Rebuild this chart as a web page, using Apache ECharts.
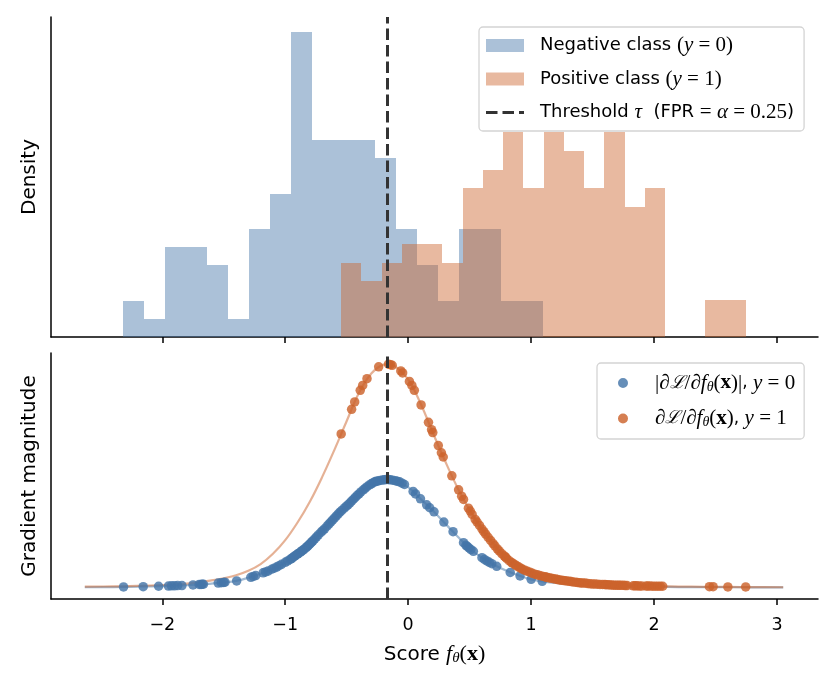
<!DOCTYPE html>
<html><head><meta charset="utf-8">
<script src="https://cdn.jsdelivr.net/npm/echarts@6/dist/echarts.min.js"></script>
<style>html,body{margin:0;padding:0;background:#fff}#c{width:836px;height:691px}</style>
</head><body><div id="c"></div>
<script>
// ---- Histogram data (counts per bin) ----
const negBinStart = -2.317, negBinWidth = 0.1707;
const negCounts = [2,1,5,5,4,1,6,8,17,11,11,11,10,6,4,2,6,6,2,2];
const posBinStart = -0.545, posBinWidth = 0.1646;
const posCounts = [4,3,4,5,5,4,8,9,11,8,11,10,8,11,7,8,0,0,2,2];
const threshold = -0.168;
const xTicks = [-2,-1,0,1,2,3];

// ---- Per-sample scores and gradient magnitudes ----
const negScoreX = [-2.315,-2.155,-2.03,-1.95,-1.925,-1.9,-1.875,-1.84,-1.75,-1.70,-1.685,-1.675,-1.665,
-1.545,-1.52,-1.5,-1.49,-1.395,-1.28,-1.26,-1.24,-1.18,-1.16,-1.14,
-1.11,-1.09,-1.07,-1.05,-1.03,-1.0,-0.98,-0.96,
-0.948,-0.94,-0.928,-0.92,-0.905,-0.897,-0.889,-0.874,-0.866,-0.855,-0.846,-0.83,-0.822,-0.813,-0.804,-0.795,-0.784,
-0.775,-0.76,-0.745,-0.73,-0.71,-0.695,-0.68,-0.66,-0.645,-0.63,-0.615,
-0.6,-0.585,-0.57,-0.555,-0.54,-0.52,-0.505,-0.49,-0.475,-0.46,-0.445,
-0.43,-0.415,-0.4,-0.385,-0.365,-0.35,-0.335,-0.315,-0.3,-0.285,-0.272,
-0.26,-0.245,-0.23,-0.21,-0.195,-0.18,-0.16,-0.145,-0.125,-0.105,
-0.09,-0.07,-0.05,-0.03,0.04,0.06,0.1,0.15,0.175,0.21,0.29,0.365,
0.45,0.47,0.48,0.495,0.51,0.53,0.6,0.62,0.64,0.66,0.68,0.72,0.83,0.91,1.0,1.09];
const negGradY = [0.004,0.005,0.007,0.008,0.009,0.009,0.010,0.010,0.013,0.015,0.015,0.016,0.016,
0.021,0.023,0.024,0.025,0.031,0.047,0.051,0.055,0.067,0.071,0.075,
0.083,0.088,0.093,0.099,0.105,0.114,0.120,0.127,
0.131,0.135,0.140,0.143,0.149,0.152,0.155,0.161,0.165,0.169,0.173,0.180,0.184,0.189,0.194,0.199,0.205,
0.210,0.219,0.228,0.237,0.248,0.256,0.264,0.276,0.285,0.294,0.303,
0.312,0.321,0.330,0.338,0.346,0.356,0.364,0.371,0.379,0.388,0.396,
0.404,0.413,0.420,0.429,0.438,0.445,0.452,0.460,0.465,0.470,0.474,
0.476,0.478,0.480,0.482,0.483,0.484,0.484,0.483,0.481,0.479,
0.477,0.474,0.468,0.462,0.431,0.420,0.398,0.371,0.358,0.340,0.294,0.251,
0.202,0.190,0.185,0.178,0.171,0.163,0.135,0.127,0.120,0.114,0.108,0.096,0.069,0.053,0.038,0.029];
const posScoreX = [-0.545,-0.46,-0.435,-0.39,-0.37,-0.335,-0.24,-0.16,-0.145,-0.13,-0.06,
-0.045,0.01,0.03,0.05,0.105,0.165,0.19,0.2,0.245,0.27,0.285,0.355,0.41,0.435,
0.45,0.49,0.505,0.52,0.545,0.56,0.58,0.6,
0.615,0.63,0.65,0.67,0.69,0.705,0.725,0.74,0.76,
0.78,0.79,0.8,0.82,0.84,0.85,0.87,0.88,0.9,0.915,0.93,
0.95,0.97,0.99,1.01,1.03,1.05,1.07,1.09,
1.11,1.12,1.135,1.15,1.165,1.18,1.2,1.215,1.23,1.245,1.26,
1.275,1.29,1.31,1.325,1.34,1.36,1.375,1.39,1.405,1.42,
1.44,1.46,1.48,1.5,1.52,1.54,1.56,1.58,
1.6,1.61,1.625,1.64,1.655,1.67,1.685,1.7,1.715,1.73,1.75,
1.765,1.78,1.83,1.845,1.86,1.88,1.9,
1.935,1.95,1.97,1.99,2.01,2.03,2.05,2.07,2.45,2.48,2.6,2.745];
const posGradY = [0.688,0.798,0.831,0.883,0.905,0.935,0.988,1.000,0.998,0.995,0.970,
0.961,0.923,0.905,0.883,0.818,0.740,0.707,0.694,0.636,0.604,0.585,0.501,0.438,0.410,
0.395,0.356,0.343,0.328,0.306,0.294,0.279,0.263,
0.251,0.240,0.226,0.212,0.198,0.188,0.174,0.165,0.153,
0.143,0.138,0.132,0.122,0.113,0.110,0.103,0.099,0.093,0.088,0.083,
0.078,0.074,0.070,0.065,0.061,0.058,0.055,0.052,
0.050,0.048,0.046,0.044,0.043,0.041,0.039,0.037,0.035,0.034,0.033,
0.032,0.031,0.029,0.028,0.026,0.025,0.024,0.023,0.022,0.021,
0.021,0.019,0.018,0.017,0.017,0.016,0.015,0.015,
0.0145,0.014,0.014,0.013,0.013,0.012,0.012,0.012,0.011,0.011,0.011,
0.010,0.010,0.009,0.009,0.009,0.008,0.008,
0.008,0.008,0.008,0.007,0.007,0.007,0.007,0.007,0.005,0.005,0.004,0.004];

// ---- Gradient curves sampled from the figure ----
const curveX = [-2.63,-2.4,-2.2,-2.0,-1.8,-1.6,-1.5,-1.4,-1.3,-1.2,-1.1,-1.0,-0.9,-0.8,-0.7,-0.6,-0.5,-0.4,-0.3,-0.2,-0.17,-0.1,0.0,0.1,0.2,0.3,0.4,0.5,0.6,0.7,0.8,0.9,1.0,1.1,1.2,1.3,1.4,1.6,1.8,2.0,2.2,2.4,2.6,2.8,3.05];
const curvePos = [.005,.0065,.0085,.0125,.019,.033,.043,.056,.076,.106,.152,.213,.292,.385,.495,.617,.746,.872,.958,.998,1.0,.988,.932,.825,.694,.567,.449,.347,.263,.192,.132,.093,.067,.051,.039,.030,.023,.0145,.0095,.007,.0055,.0045,.0038,.0032,.0026];
const curveNeg = [.0025,.0035,.005,.0075,.0115,.019,.024,.031,.045,.063,.085,.114,.151,.196,.254,.312,.367,.42,.465,.483,.484,.478,.45,.398,.346,.288,.231,.176,.135,.102,.076,.055,.038,.028,.022,.017,.013,.0085,.0055,.0042,.0035,.003,.0026,.0023,.002];

const NEG = 'Negative class (y=0)', POS = 'Positive class (y=1)', THR = 'Threshold τ (FPR = α = 0.25)';
const GNEG = '|∂L/∂f(x)|, y=0', GPOS = '∂L/∂f(x), y=1';
const blue = '#4475a8', orange = '#cc632c', dark = '#333333';

function histData(start, w, counts) {
  const n = counts.reduce((a, b) => a + b, 0);
  return counts.map((c, i) => [start + i * w, start + (i + 1) * w, c / (n * w)]);
}
function histSeries(name, data, color) {
  return {
    name, type: 'custom', xAxisIndex: 0, yAxisIndex: 0, data,
    encode: { x: [0, 1], y: 2 },
    itemStyle: { color: color, opacity: 0.45 },
    renderItem: function (params, api) {
      const p0 = api.coord([api.value(0), 0]);
      const p1 = api.coord([api.value(1), api.value(2)]);
      const x0 = Math.round(p0[0]), x1 = Math.round(p1[0]);
      const yb = Math.round(p0[1]), yt = Math.round(p1[1]);
      return { type: 'rect', shape: { x: x0, y: yt, width: x1 - x0, height: yb - yt },
        style: { fill: color, opacity: 0.45 } };
    }
  };
}
const negHist = histData(negBinStart, negBinWidth, negCounts);
const posHist = histData(posBinStart, posBinWidth, posCounts);

const sans = 'DejaVu Sans', serif = 'Liberation Serif';
const richTop = {
  t: { fontFamily: sans, fontSize: 18, color: '#000' },
  n: { fontFamily: serif, fontSize: 21, color: '#000' },
  m: { fontFamily: serif, fontSize: 21, fontStyle: 'italic', color: '#000' }
};
const richBot = {
  t: { fontFamily: sans, fontSize: 17, color: '#000' },
  n: { fontFamily: serif, fontSize: 21, color: '#000' },
  m: { fontFamily: serif, fontSize: 21, fontStyle: 'italic', color: '#000' },
  c: { fontFamily: 'DejaVu Serif', fontSize: 18, fontStyle: 'italic', color: '#000' },
  b: { fontFamily: serif, fontSize: 21, fontWeight: 'bold', color: '#000' },
  s: { fontFamily: serif, fontSize: 14, fontStyle: 'italic', color: '#000', padding: [8, 0, 0, 0] }
};
const legendLabels = {};
legendLabels[NEG] = '{t|Negative class }{n|(}{m|y}{n| = 0)}';
legendLabels[POS] = '{t|Positive class }{n|(}{m|y}{n| = 1)}';
legendLabels[THR] = '{t|Threshold }{m|τ}{t|  (FPR }{n|= }{m|α}{n| = 0.25}{t|)}';
legendLabels[GNEG] = '{n||∂}{c|ℒ}{n|/∂}{m|f}{s|θ}{n|(}{b|x}{n|)|}{t|, }{m|y}{n| = 0}';
legendLabels[GPOS] = '{n|∂}{c|ℒ}{n|/∂}{m|f}{s|θ}{n|(}{b|x}{n|)}{t|, }{m|y}{n| = 1}';

const xMin = -2.905, xMax = 3.333;
function xAxis(idx, labels) {
  return {
    type: 'value', gridIndex: idx, min: xMin, max: xMax,
    axisLine: { onZero: false, lineStyle: { color: '#000', width: 1.5 } },
    axisTick: { show: true, length: 6, customValues: xTicks, lineStyle: { color: '#000', width: 1.5 } },
    axisLabel: { show: labels, customValues: xTicks, color: '#000', fontFamily: sans, fontSize: 17.5, margin: 17,
      formatter: v => String(v).replace('-', '\u2212') },
    splitLine: { show: false },
    name: labels ? '{t|Score }{m|f}{s|θ}{n|(}{b|x}{n|)}' : '',
    nameLocation: 'middle', nameGap: 44,
    nameTextStyle: { rich: {
      t: { fontFamily: sans, fontSize: 20, color: '#000' },
      n: { fontFamily: serif, fontSize: 22, color: '#000' },
      m: { fontFamily: serif, fontSize: 22, fontStyle: 'italic', color: '#000' },
      b: { fontFamily: serif, fontSize: 22, fontWeight: 'bold', color: '#000' },
      s: { fontFamily: serif, fontSize: 15, fontStyle: 'italic', color: '#000', padding: [8, 0, 0, 0] }
    } }
  };
}
function yAxis(idx, min, max, name) {
  return {
    type: 'value', gridIndex: idx, min, max,
    axisLine: { show: true, onZero: false, lineStyle: { color: '#000', width: 1.5 } },
    axisTick: { show: false }, axisLabel: { show: false }, splitLine: { show: false },
    name, nameLocation: 'middle', nameGap: 11,
    nameTextStyle: { fontFamily: sans, fontSize: 20, color: '#000' }
  };
}
const thrLine = { color: dark, width: 3, type: [11.5, 5] };
const dotIcon = 'path://M0,0L0.01,0ZM38,10L37.99,10ZM14,5A5,5,0,1,0,24,5A5,5,0,1,0,14,5Z';
const dashIcon = 'path://M0,0L0.01,0ZM38,13L37.99,13ZM0,5H11.5V8H0ZM16.5,5H28V8H16.5ZM33,5H38V8H33Z';

const option = {
  animation: false,
  backgroundColor: '#fff',
  grid: [
    { left: 51, right: 18, top: 17, height: 320 },
    { left: 51, right: 18, top: 353, height: 246 }
  ],
  xAxis: [xAxis(0, false), xAxis(1, true)],
  yAxis: [yAxis(0, 0, 0.871, 'Density'), yAxis(1, -0.05, 1.05, 'Gradient magnitude')],
  legend: [
    {
      data: [{ name: NEG, icon: 'rect' }, { name: POS, icon: 'rect' }, { name: THR, icon: dashIcon }],
      orient: 'vertical', left: 479, top: 27, itemWidth: 38, itemHeight: 13, itemGap: 12.5,
      padding: [8, 10, 8, 7], borderColor: '#d4d4d4', borderWidth: 1.3, borderRadius: 4,
      backgroundColor: 'rgba(255,255,255,0.8)', selectedMode: false,
      formatter: n => legendLabels[n],
      textStyle: { fontFamily: sans, fontSize: 18, color: '#000', lineHeight: 20, padding: [0, 0, 0, 11], rich: richTop }
    },
    {
      data: [{ name: GNEG, icon: dotIcon }, { name: GPOS, icon: dotIcon }],
      orient: 'vertical', left: 597, top: 363, itemWidth: 38, itemHeight: 10, itemGap: 14,
      padding: [9.5, 9, 9.5, 7], borderColor: '#d4d4d4', borderWidth: 1.3, borderRadius: 4,
      backgroundColor: 'rgba(255,255,255,0.8)', selectedMode: false,
      formatter: n => legendLabels[n],
      textStyle: { fontFamily: sans, fontSize: 17, color: '#000', lineHeight: 20, padding: [0, 0, 0, 8], rich: richBot }
    }
  ],
  series: [
    histSeries(NEG, negHist, blue),
    histSeries(POS, posHist, orange),
    {
      name: THR, type: 'custom', xAxisIndex: 0, yAxisIndex: 0, data: [], z: 10,
      renderItem: () => null, itemStyle: { color: dark },
      markLine: { silent: true, symbol: 'none', label: { show: false }, lineStyle: thrLine, data: [{ xAxis: threshold }] }
    },
    {
      name: 'curveNeg', type: 'line', xAxisIndex: 1, yAxisIndex: 1, symbol: 'none', smooth: 0.4,
      data: curveX.map((x, i) => [x, curveNeg[i]]), lineStyle: { color: blue, width: 2.2, opacity: 0.5 }, z: 2
    },
    {
      name: 'curvePos', type: 'line', xAxisIndex: 1, yAxisIndex: 1, symbol: 'none', smooth: 0.4,
      data: curveX.map((x, i) => [x, curvePos[i]]), lineStyle: { color: orange, width: 2.2, opacity: 0.5 }, z: 2
    },
    {
      name: GNEG, type: 'scatter', xAxisIndex: 1, yAxisIndex: 1, symbolSize: 9.5, z: 3,
      itemStyle: { color: blue, opacity: 0.82 },
      data: negScoreX.map((x, i) => [x, negGradY[i]])
    },
    {
      name: GPOS, type: 'scatter', xAxisIndex: 1, yAxisIndex: 1, symbolSize: 9.5, z: 4,
      itemStyle: { color: orange, opacity: 0.82 },
      data: posScoreX.map((x, i) => [x, posGradY[i]])
    },
    {
      name: 'thr2', type: 'custom', xAxisIndex: 1, yAxisIndex: 1, data: [], z: 10,
      renderItem: () => null,
      markLine: { silent: true, symbol: 'none', label: { show: false }, lineStyle: thrLine, data: [{ xAxis: threshold }] }
    }
  ]
};
const chart = echarts.init(document.getElementById('c'), null, { renderer: 'canvas' });
chart.setOption(option);
</script>
</body></html>
